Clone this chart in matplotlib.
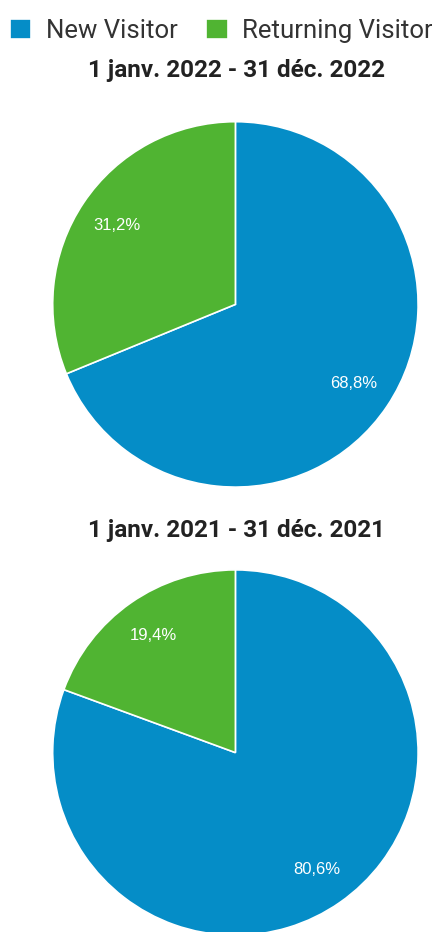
import matplotlib.pyplot as plt

categories = ['New Visitor', 'Returning Visitor']
colors = ['#058DC7', '#50B432']
values_2022 = [68.8, 31.2]
values_2021 = [80.6, 19.4]
title_2022 = '1 janv. 2022 - 31 déc. 2022'
title_2021 = '1 janv. 2021 - 31 déc. 2021'


def pct(p):
    return ('%.1f%%' % p).replace('.', ',')


W, H = 432, 932
R = 182.7
fig = plt.figure(figsize=(W / 100, H / 100), dpi=100)

# pie axes placed in pixels (center x, center y from top)
ax1 = fig.add_axes([(235.4 - R) / W, (H - 304.4 - R) / H, 2 * R / W, 2 * R / H])
ax2 = fig.add_axes([(235.4 - R) / W, (H - 752.6 - R) / H, 2 * R / W, 2 * R / H])

for ax, vals in [(ax1, values_2022), (ax2, values_2021)]:
    wedges, texts, autotexts = ax.pie(
        vals, colors=colors, startangle=90, counterclock=False,
        autopct=pct, pctdistance=0.78, radius=1,
        wedgeprops=dict(edgecolor='white', linewidth=1.2))
    for t in autotexts:
        t.set_color('white')
        t.set_fontsize(12)
        t.set_family('Liberation Sans')
    ax.set_xlim(-1.0, 1.0)
    ax.set_ylim(-1.0, 1.0)
    ax.set_aspect('equal')

fig.text(236 / W, 1 - 77 / H, title_2022, ha='center', va='baseline',
         fontsize=17.5, fontweight='bold', family='Roboto', color='#222222')
fig.text(236 / W, 1 - 537 / H, title_2021, ha='center', va='baseline',
         fontsize=17.5, fontweight='bold', family='Roboto', color='#222222')

leg = fig.legend(wedges, categories, loc='center', ncol=2,
                 bbox_to_anchor=(221 / W, 1 - 31 / H), frameon=False,
                 prop={'family': 'Roboto', 'size': 18.5},
                 handlelength=0.85, handleheight=0.85, handletextpad=0.55,
                 columnspacing=1.1, borderpad=0, borderaxespad=0)
for t in leg.get_texts():
    t.set_color('#333333')

fig.savefig('out.png', dpi=100)
